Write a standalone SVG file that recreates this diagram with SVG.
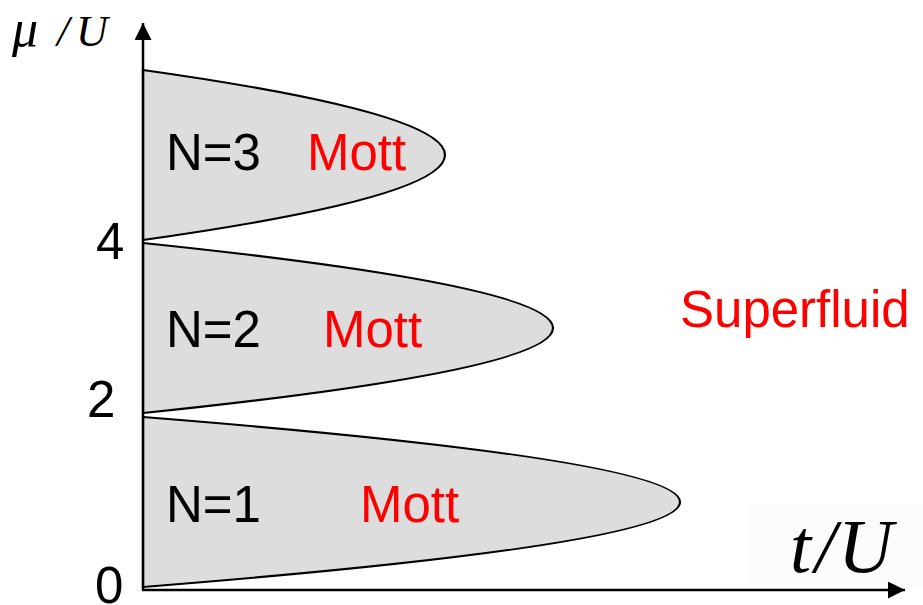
<svg xmlns="http://www.w3.org/2000/svg" width="923" height="605" viewBox="0 0 923 605">
<style>
.lobe{fill:#dddddd;stroke:#000;stroke-width:2.2}
.axis{stroke:#000;stroke-width:2.5;fill:none}
.lbl{font-family:"Liberation Sans",Arial,sans-serif;font-size:51px;fill:#000}
.red{fill:#ff0000}
.math{font-family:"Liberation Serif","Times New Roman",serif;font-style:italic;fill:#000}
</style>
<defs>
<marker id="arr" viewBox="0 0 10 10" refX="10" refY="5" markerWidth="17" markerHeight="17" markerUnits="userSpaceOnUse" orient="auto">
<path d="M0,0 L10,5 L0,10 Z" fill="#000"/>
</marker>
</defs>
<rect x="0" y="0" width="923" height="605" fill="#fff"/>
<rect x="748" y="505" width="175" height="82" fill="#fcfcfc"/>
<g id="lobe1"><path class="lobe" d="M143,417 Q1217,502 143,587 Z"/></g>
<g id="lobe2"><path class="lobe" d="M143,243 Q963,328 143,413 Z"/></g>
<g id="lobe3"><path class="lobe" d="M143,70 Q747,155 143,240 Z"/></g>
<g id="connectors">
<line class="axis" x1="143" y1="590" x2="143" y2="23" marker-end="url(#arr)"/>
<line class="axis" x1="142" y1="590" x2="905" y2="590" marker-end="url(#arr)"/>
</g>
<g id="labels">
<text class="lbl" x="166" y="170">N=3</text>
<text class="lbl red" x="307" y="170">Mott</text>
<text class="lbl" x="166" y="347">N=2</text>
<text class="lbl red" x="323" y="347">Mott</text>
<text class="lbl" x="166" y="522">N=1</text>
<text class="lbl red" x="360" y="522">Mott</text>
<text class="lbl red" x="680" y="327" font-size="52">Superfluid</text>
<text class="lbl" x="96" y="259">4</text>
<text class="lbl" x="87" y="417">2</text>
<text class="lbl" x="95" y="603">0</text>
<text class="math" y="46"><tspan x="12" font-size="52">μ</tspan><tspan x="57" font-size="44">/</tspan><tspan x="76" font-size="44">U</tspan></text>
<text class="math" font-size="76" y="572"><tspan x="790">t</tspan><tspan x="815">/</tspan><tspan x="838">U</tspan></text>
</g>
</svg>
